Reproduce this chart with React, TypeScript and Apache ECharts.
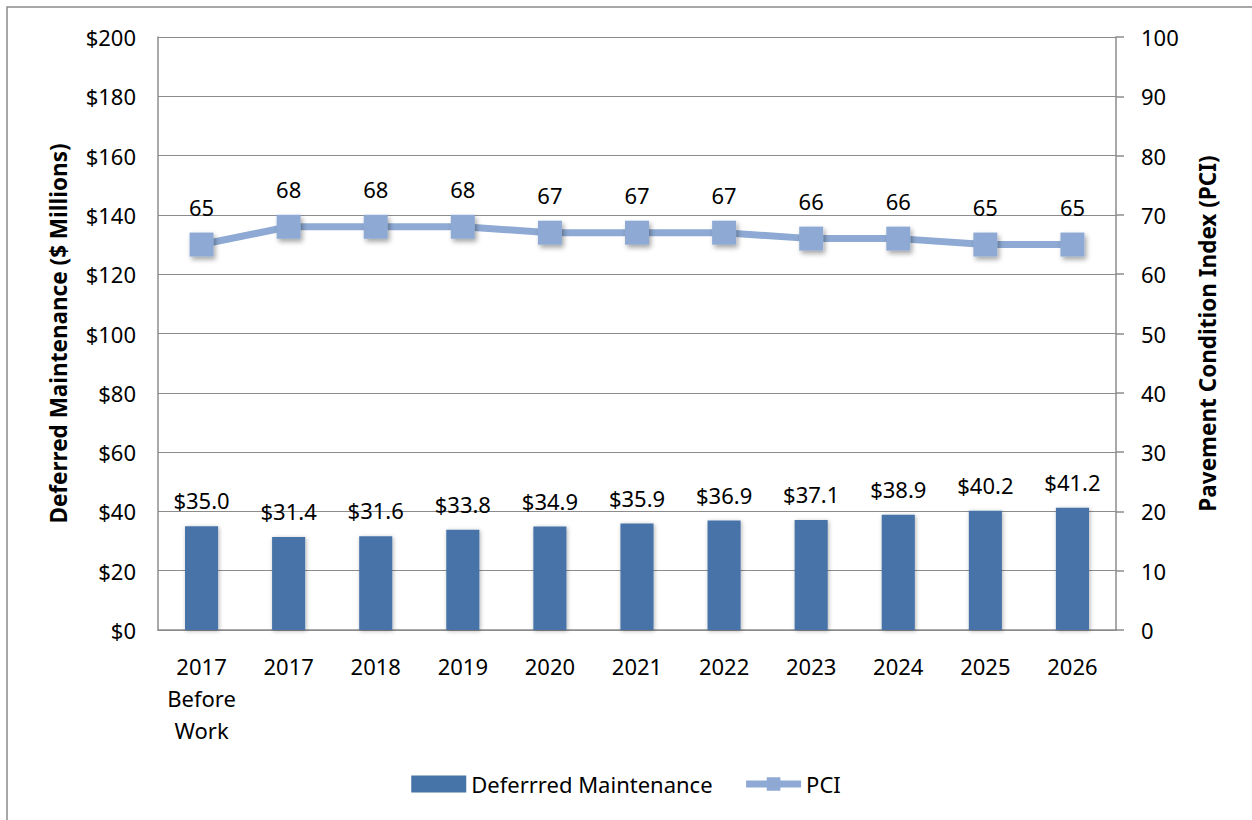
import React, { useEffect, useRef } from "react";
import * as echarts from "echarts";

const categories = ["2017\nBefore\nWork", "2017", "2018", "2019", "2020", "2021", "2022", "2023", "2024", "2025", "2026"];
const deferredMaintenance = [35.0, 31.4, 31.6, 33.8, 34.9, 35.9, 36.9, 37.1, 38.9, 40.2, 41.2];
const pci = [65, 68, 68, 68, 67, 67, 67, 66, 66, 65, 65];

const FONT = "'Noto Sans', 'Open Sans', sans-serif";
const GRID = "#8c8c8c";
const FS = 22;

export default function App() {
  const ref = useRef<HTMLDivElement>(null);
  useEffect(() => {
    document.body.style.margin = "0";
    const chart = echarts.init(ref.current!, null, { renderer: "svg" });
    chart.setOption({
      animation: false,
      backgroundColor: "#ffffff",
      textStyle: { fontFamily: FONT, color: "#000" },
      graphic: [
        {
          type: "rect",
          shape: { x: 7, y: 7, width: 1400, height: 1000 },
          style: { fill: "none", stroke: "#8a8a8a", lineWidth: 1.5 },
          silent: true,
        },
      ],
      grid: { left: 158, right: 136, top: 37, bottom: 190, containLabel: false },
      legend: {
        bottom: 20,
        left: "center",
        itemGap: 30,
        itemWidth: 55,
        itemHeight: 17,
        textStyle: { fontFamily: FONT, fontSize: FS, color: "#000" },
        data: [
          { name: "Deferrred Maintenance", icon: "rect" },
          { name: "PCI", lineStyle: { width: 7, color: "#8eaad4" } },
        ],
      },
      xAxis: {
        type: "category",
        data: categories,
        axisLine: { lineStyle: { color: GRID, width: 1.5 } },
        axisTick: { show: false },
        axisLabel: { interval: 0, fontFamily: FONT, fontSize: FS, color: "#000", margin: 20, lineHeight: 32 },
      },
      yAxis: [
        {
          type: "value",
          min: 0,
          max: 200,
          interval: 20,
          name: "Deferred Maintenance ($ Millions)",
          nameLocation: "middle",
          nameRotate: 90,
          nameGap: 88,
          nameTextStyle: { fontFamily: FONT, fontSize: 22.5, fontWeight: "bold", color: "#000" },
          axisLine: { show: true, lineStyle: { color: GRID, width: 1.5 } },
          axisTick: { show: false },
          splitLine: { lineStyle: { color: GRID, width: 1.2 } },
          axisLabel: { fontFamily: FONT, fontSize: FS, color: "#000", margin: 22, formatter: (v: number) => "$" + v },
        },
        {
          type: "value",
          min: 0,
          max: 100,
          interval: 10,
          position: "right",
          name: "Pavement Condition Index (PCI)",
          nameLocation: "middle",
          nameRotate: 90,
          nameGap: 80,
          nameTextStyle: { fontFamily: FONT, fontSize: 22.5, fontWeight: "bold", color: "#000" },
          axisLine: { show: true, lineStyle: { color: GRID, width: 1.5 } },
          axisTick: { show: true, inside: false, length: 8, lineStyle: { color: GRID, width: 1.5 } },
          splitLine: { show: false },
          axisLabel: { fontFamily: FONT, fontSize: FS, color: "#000", margin: 25 },
        },
      ],
      series: [
        {
          name: "Deferrred Maintenance",
          type: "bar",
          data: deferredMaintenance,
          barWidth: "38%",
          yAxisIndex: 0,
          itemStyle: {
            color: "#4673a8",
            shadowBlur: 4,
            shadowColor: "rgba(0,0,0,0.3)",
            shadowOffsetX: 1,
            shadowOffsetY: 1,
          },
          label: {
            show: true,
            position: "top",
            distance: 15,
            fontFamily: FONT,
            fontSize: FS,
            color: "#000",
            formatter: (p: any) => "$" + Number(p.value).toFixed(1),
          },
        },
        {
          name: "PCI",
          type: "line",
          data: pci,
          yAxisIndex: 1,
          symbol: "rect",
          symbolSize: 24,
          lineStyle: { color: "#8eaad4", width: 7 },
          itemStyle: {
            color: "#8eaad4",
            shadowBlur: 5,
            shadowColor: "rgba(0,0,0,0.35)",
            shadowOffsetX: 2,
            shadowOffsetY: 3,
          },
          label: {
            show: true,
            position: "top",
            distance: 15,
            fontFamily: FONT,
            fontSize: FS,
            color: "#000",
          },
        },
      ],
    });
    return () => chart.dispose();
  }, []);
  return <div ref={ref} style={{ width: 1252, height: 820 }} />;
}
